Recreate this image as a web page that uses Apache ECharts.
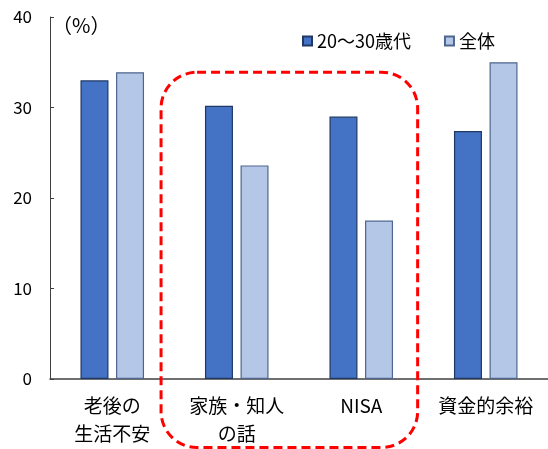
<!DOCTYPE html>
<html>
<head>
<meta charset="utf-8">
<script src="https://cdn.jsdelivr.net/npm/echarts@6/dist/echarts.min.js"></script>
<style>
  html, body { margin: 0; padding: 0; background: #fff; }
  #chart { width: 548px; height: 449px; }
</style>
</head>
<body>
<div id="chart"></div>
<script>
// Reasons for starting to invest: young respondents vs. all respondents (%)
const categories = ['老後の\n生活不安', '家族・知人\nの話', 'NISA', '資金的余裕'];
const seriesNames = ['20～30歳代', '全体'];
const young = [33.0, 30.2, 29.0, 27.4];
const overall = [33.9, 23.6, 17.5, 35.0];
const yTicks = { min: 0, max: 40, interval: 10 };
const yUnit = '（%）';

const FONT = '"Noto Sans CJK JP", "Noto Sans", sans-serif';

const chart = echarts.init(document.getElementById('chart'), null, { renderer: 'canvas' });

const option = {
  animation: false,
  backgroundColor: '#ffffff',
  textStyle: { fontFamily: FONT, color: '#000' },
  grid: { left: 50, right: 0, top: 17, bottom: 70, containLabel: false },
  legend: {
    left: 297,
    top: 27,
    itemWidth: 9,
    itemHeight: 9,
    itemGap: 33,
    icon: 'rect',
    textStyle: { fontSize: 18, color: '#000', fontFamily: FONT },
    data: seriesNames
  },
  xAxis: {
    type: 'category',
    data: categories,
    axisLine: { lineStyle: { color: '#404040', width: 1.5 } },
    axisTick: { inside: true, length: 7, lineStyle: { color: '#404040' } },
    axisLabel: {
      fontSize: 19,
      color: '#000',
      fontFamily: FONT,
      lineHeight: 28,
      margin: 13,
      interval: 0
    }
  },
  yAxis: {
    type: 'value',
    min: yTicks.min,
    max: yTicks.max,
    interval: yTicks.interval,
    name: yUnit,
    nameLocation: 'end',
    nameGap: -8,
    nameTextStyle: {
      fontSize: 20,
      color: '#000',
      fontFamily: FONT,
      align: 'left',
      verticalAlign: 'middle',
      padding: [0, 0, 0, 2]
    },
    splitLine: { show: false },
    axisLine: { show: true, lineStyle: { color: '#404040', width: 1 } },
    axisTick: { show: true, inside: true, length: 4, lineStyle: { color: '#404040' } },
    axisLabel: { fontSize: 17, color: '#000', fontFamily: FONT, margin: 18 }
  },
  series: [
    {
      name: seriesNames[0],
      type: 'bar',
      data: young,
      barWidth: 28,
      barGap: '27%',
      itemStyle: { color: '#4472C4', borderColor: '#1F3864', borderWidth: 1.2 }
    },
    {
      name: seriesNames[1],
      type: 'bar',
      data: overall,
      barWidth: 28,
      itemStyle: { color: '#B4C7E7', borderColor: '#4F6690', borderWidth: 1.2 }
    }
  ]
};

chart.setOption(option);

// Dashed rounded frame highlighting the two middle categories
function drawHighlight() {
  const c0 = chart.convertToPixel({ xAxisIndex: 0 }, categories[0]);
  const c1 = chart.convertToPixel({ xAxisIndex: 0 }, categories[1]);
  const c2 = chart.convertToPixel({ xAxisIndex: 0 }, categories[2]);
  const step = c1 - c0;
  const left = c0 + step * 0.5 - step * 0.108;
  const right = c2 + step * 0.5 - step * 0.047;
  const top = chart.convertToPixel({ yAxisIndex: 0 }, 33.9);
  const bottom = chart.getHeight() - 1.5;
  chart.setOption({
    graphic: [{
      type: 'rect',
      z: 100,
      silent: true,
      shape: { x: left, y: top, width: right - left, height: bottom - top, r: 36 },
      style: { fill: 'none', stroke: '#FF0000', lineWidth: 3, lineDash: [9, 5] }
    }]
  });
}
drawHighlight();
</script>
</body>
</html>
